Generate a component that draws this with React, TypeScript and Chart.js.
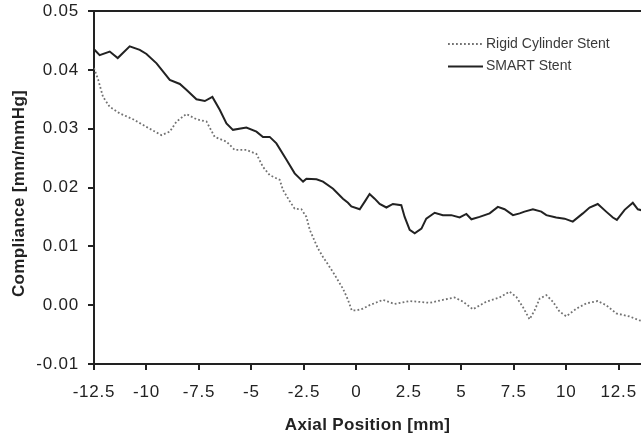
import React, { useEffect, useRef } from "react";
import { Chart, registerables } from "chart.js";

Chart.register(...registerables);

// Axial position along the stented segment [mm] and measured compliance [mm/mmHg]
const smartPosition = [
  -12.5, -12.23, -11.75, -11.37, -10.8, -10.32, -10.0, -9.52, -8.89, -8.41, -8.1, -7.62, -7.22, -6.86,
  -6.51, -6.19, -5.88, -5.24, -4.76, -4.45, -4.13, -3.81, -3.33, -2.94, -2.54, -2.38, -1.9, -1.59,
  -1.11, -0.64, -0.4, -0.24, 0.16, 0.4, 0.63, 0.87, 1.11, 1.43, 1.74, 2.14, 2.3, 2.54, 2.78, 3.1,
  3.33, 3.73, 4.12, 4.52, 4.92, 5.24, 5.48, 5.87, 6.35, 6.74, 7.06, 7.46, 7.78, 8.01, 8.41, 8.81,
  9.05, 9.52, 9.92, 10.31, 10.79, 11.11, 11.5, 11.9, 12.22, 12.41, 12.78, 13.17, 13.41, 13.73,
];
const smartCompliance = [
  0.0435, 0.0425, 0.0431, 0.042, 0.044, 0.0434, 0.0427, 0.0411, 0.0383, 0.0376, 0.0366, 0.035, 0.0347, 0.0354,
  0.0332, 0.0309, 0.0298, 0.0302, 0.0295, 0.0286, 0.0286, 0.0275, 0.0247, 0.0224, 0.021, 0.0215, 0.0214, 0.021,
  0.0198, 0.0181, 0.0174, 0.0168, 0.0163, 0.0176, 0.0189, 0.0181, 0.0172, 0.0166, 0.0172, 0.017, 0.015, 0.0128, 0.0122, 0.013,
  0.0147, 0.0157, 0.0153, 0.0153, 0.0149, 0.0155, 0.0146, 0.015, 0.0156, 0.0167, 0.0163, 0.0153, 0.0156, 0.0159, 0.0163, 0.0159,
  0.0153, 0.0149, 0.0147, 0.0142, 0.0156, 0.0166, 0.0172, 0.0159, 0.0149, 0.0145, 0.0162, 0.0174, 0.0163, 0.016,
];

const rigidPosition = [
  -12.5, -12.3, -12.07, -11.75, -11.27, -10.64, -10.0, -9.29, -8.89, -8.57, -8.1, -7.62, -7.14, -6.75,
  -6.19, -5.8, -5.24, -4.76, -4.45, -4.13, -3.65, -3.5, -3.18, -2.94, -2.62, -2.38, -2.22, -1.84,
  -1.59, -1.11, -0.64, -0.41, -0.22, 0.0, 0.31, 0.63, 1.27, 1.82, 2.54, 3.49, 4.12, 4.68, 5.08, 5.55,
  6.19, 6.82, 7.3, 7.62, 7.93, 8.25, 8.49, 8.73, 9.05, 9.36, 9.68, 10.0, 10.48, 10.95, 11.5, 11.9,
  12.38, 13.0, 13.49, 13.73,
];
const rigidCompliance = [
  0.0403, 0.0383, 0.0354, 0.0337, 0.0326, 0.0316, 0.0303, 0.0289, 0.0295, 0.0312, 0.0325, 0.0316, 0.0312, 0.0286,
  0.0278, 0.0264, 0.0264, 0.0257, 0.0235, 0.0221, 0.0213, 0.0196, 0.0177, 0.0164, 0.0163, 0.015, 0.0128, 0.0097,
  0.0082, 0.0056, 0.0028, 0.001, -0.0009, -0.0009, -0.0006, 0.0, 0.0009, 0.0002, 0.0007, 0.0004, 0.0009, 0.0013, 0.0006, -0.0007,
  0.0006, 0.0013, 0.0023, 0.0014, -0.0003, -0.0024, -0.0009, 0.0011, 0.0017, 0.0006, -0.0011, -0.0019, -0.0006, 0.0003, 0.0007, 0.0,
  -0.0014, -0.0019, -0.0026, -0.0028,
];

const seriesNames = ["Rigid Cylinder Stent", "SMART Stent"];
const xAxisTitle = "Axial Position [mm]";
const yAxisTitle = "Compliance [mm/mmHg]";

const X_MIN = -12.5;
const X_MAX = 13.56;
const X_STEP = 2.5;
const Y_MIN = -0.01;
const Y_MAX = 0.05;
const Y_STEP = 0.01;

const FONT = "'Liberation Sans', Arial, Helvetica, sans-serif";
const INK = "#222";
const TICK_SPACING = "0.8px";
const TITLE_SPACING = "0.35px";

const toPoints = (xs: number[], ys: number[]) => xs.map((x, i) => ({ x, y: ys[i] }));

// Tracking for axis text: titles are drawn with the grid layer, tick labels after the datasets
const axisTextSpacing = {
  id: "axisTextSpacing",
  beforeUpdate(chart: any) {
    (chart.ctx as any).letterSpacing = TICK_SPACING;
  },
  beforeDraw(chart: any) {
    (chart.ctx as any).letterSpacing = TITLE_SPACING;
  },
  beforeDatasetsDraw(chart: any) {
    (chart.ctx as any).letterSpacing = TICK_SPACING;
  },
};

// Rotated y-axis title, set slightly below the middle of the plot
const yTitlePlugin = {
  id: "yTitle",
  afterDraw(chart: any) {
    const { ctx, chartArea } = chart;
    ctx.save();
    (ctx as any).letterSpacing = TITLE_SPACING;
    ctx.translate(19, (chartArea.top + chartArea.bottom) / 2 + 6);
    ctx.rotate(-Math.PI / 2);
    ctx.font = `bold 17px ${FONT}`;
    ctx.fillStyle = INK;
    ctx.textAlign = "center";
    ctx.textBaseline = "middle";
    ctx.fillText(yAxisTitle, 0, 0);
    ctx.restore();
  },
};

// Legend drawn inside the plot, near the upper right corner
const insetLegend = {
  id: "insetLegend",
  afterDraw(chart: any) {
    const { ctx, chartArea } = chart;
    const lineX0 = chartArea.left + 354;
    const lineX1 = lineX0 + 35;
    const textX = lineX1 + 3;
    const firstY = chartArea.top + 33;
    const rowGap = 22.5;
    ctx.save();
    (ctx as any).letterSpacing = "0px";
    ctx.font = `14px ${FONT}`;
    ctx.textBaseline = "middle";
    ctx.textAlign = "left";
    chart.data.datasets.forEach((ds: any, i: number) => {
      const y = firstY + i * rowGap;
      ctx.beginPath();
      ctx.strokeStyle = ds.borderColor;
      ctx.lineWidth = ds.borderWidth;
      ctx.setLineDash(ds.borderDash || []);
      ctx.moveTo(lineX0, y);
      ctx.lineTo(lineX1, y);
      ctx.stroke();
      ctx.setLineDash([]);
      ctx.fillStyle = "#3a3a3a";
      ctx.fillText(ds.label, textX, y);
    });
    ctx.restore();
  },
};

export default function App() {
  const canvasRef = useRef<HTMLCanvasElement | null>(null);

  useEffect(() => {
    const canvas = canvasRef.current;
    if (!canvas) return;
    const chart = new Chart(canvas, {
      type: "line",
      data: {
        datasets: [
          {
            label: seriesNames[0],
            data: toPoints(rigidPosition, rigidCompliance),
            borderColor: "#727272",
            borderWidth: 1.8,
            borderDash: [1.8, 2.2],
            pointRadius: 0,
            tension: 0,
            fill: false,
          },
          {
            label: seriesNames[1],
            data: toPoints(smartPosition, smartCompliance),
            borderColor: INK,
            borderWidth: 2,
            pointRadius: 0,
            tension: 0,
            fill: false,
          },
        ],
      },
      options: {
        responsive: false,
        maintainAspectRatio: false,
        animation: false,
        events: [],
        layout: { padding: { top: 11, right: 0, bottom: 0, left: 0 } },
        plugins: {
          legend: { display: false },
          tooltip: { enabled: false },
          title: { display: false },
        },
        scales: {
          x: {
            type: "linear",
            min: X_MIN,
            max: X_MAX,
            ticks: {
              stepSize: X_STEP,
              includeBounds: false,
              autoSkip: false,
              maxRotation: 0,
              padding: 12,
              z: 1,
              color: INK,
              font: { family: FONT, size: 17 },
              callback: (v: any) => String(Math.round(Number(v) * 10) / 10),
            },
            grid: {
              drawOnChartArea: false,
              drawTicks: true,
              tickLength: 6,
              color: INK,
              tickColor: INK,
              lineWidth: 2,
            },
            border: { display: true, color: INK, width: 2 },
            title: {
              display: true,
              text: xAxisTitle,
              color: INK,
              font: { family: FONT, size: 17, weight: "bold" },
              padding: { top: 0, bottom: 1 },
            },
            afterFit: (scale: any) => {
              scale.height = 73;
              scale.paddingLeft = 0;
              scale.paddingRight = 0;
            },
          },
          y: {
            type: "linear",
            min: Y_MIN,
            max: Y_MAX,
            ticks: {
              stepSize: Y_STEP,
              includeBounds: false,
              padding: 9,
              z: 1,
              color: INK,
              font: { family: FONT, size: 17 },
              callback: (v: any) => Number(v).toFixed(2),
            },
            grid: {
              drawOnChartArea: true,
              drawTicks: true,
              tickLength: 6,
              color: (c: any) =>
                c.tick && Math.abs(c.tick.value - Y_MAX) < 1e-9 ? INK : "rgba(0,0,0,0)",
              tickColor: INK,
              lineWidth: 2,
            },
            border: { display: true, color: INK, width: 2 },
            title: { display: false },
            afterFit: (scale: any) => {
              scale.width = 94;
              scale.paddingTop = 0;
              scale.paddingBottom = 0;
            },
          },
        },
      },
      plugins: [axisTextSpacing, yTitlePlugin, insetLegend],
    });
    return () => chart.destroy();
  }, []);

  return (
    <div
      style={{
        position: "fixed",
        left: 0,
        top: 0,
        width: 641,
        height: 437,
        background: "#fff",
        overflow: "hidden",
      }}
    >
      <canvas ref={canvasRef} width={641} height={437} style={{ display: "block" }} />
    </div>
  );
}
